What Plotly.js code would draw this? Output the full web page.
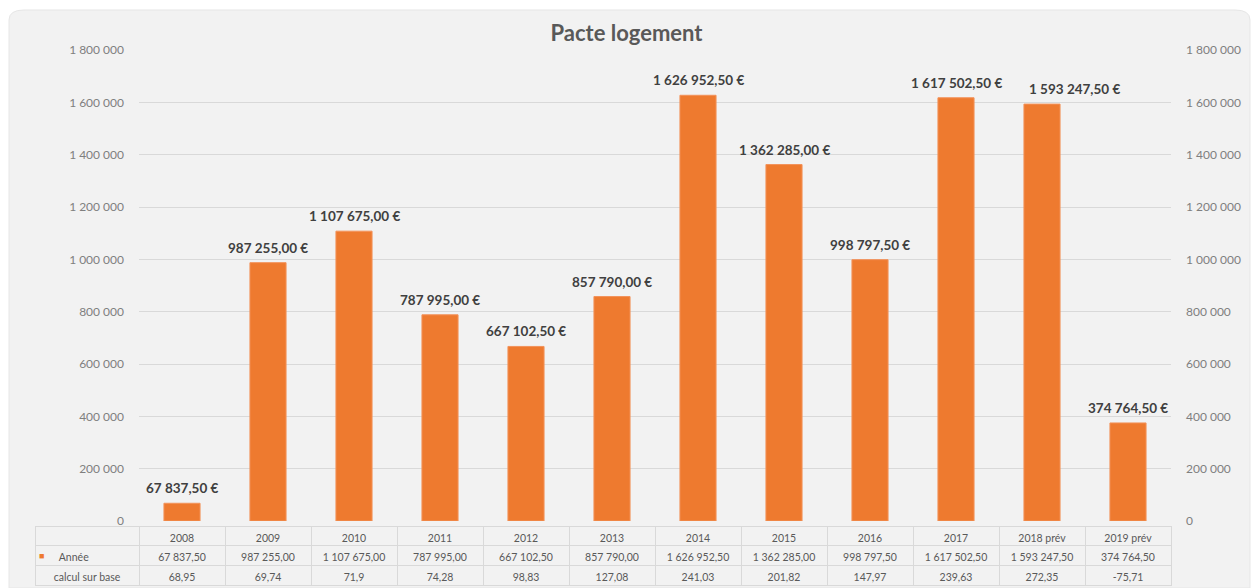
<!DOCTYPE html>
<html><head><meta charset="utf-8">
<script src="https://cdn.plot.ly/plotly-3.0.1.min.js"></script>
<style>html,body{margin:0;padding:0;background:#fff;}#chart{width:1253px;height:588px;}</style>
</head><body><div id="chart"></div>
<script>
const categories = ['2008','2009','2010','2011','2012','2013','2014','2015','2016','2017','2018 prév','2019 prév'];
const anneeValues = [67837.5, 987255, 1107675, 787995, 667102.5, 857790, 1626952.5, 1362285, 998797.5, 1617502.5, 1593247.5, 374764.5];
const calculValues = [68.95, 69.74, 71.9, 74.28, 98.83, 127.08, 241.03, 201.82, 147.97, 239.63, 272.35, -75.71];
const rowNames = ['Année', 'calcul sur base'];
const chartTitle = 'Pacte logement';

function frNum(v){
  const s = v.toFixed(2).split('.');
  return s[0].replace(/\B(?=(\d{3})+(?!\d))/g, ' ') + ',' + s[1];
}
function frShort(v){ return String(v).replace('.', ','); }

const W = 1253, H = 588;
const FONT = 'Lato, "Liberation Sans", sans-serif';
const orange = '#ee7a2f';
const PL = 139, PR = 1171;

const bar = {
  type: 'bar', x: categories, y: anneeValues, name: rowNames[0],
  marker: {color: orange, line: {color: '#f3925a', width: 1}},
  hoverinfo: 'none', showlegend: false
};

const headerVals = [''].concat(categories).map(v => [v]);
const cellCols = [['      ' + rowNames[0], '    ' + rowNames[1]]];
for (let i = 0; i < categories.length; i++) {
  cellCols.push([frNum(anneeValues[i]), frShort(calculValues[i])]);
}
const catW = (PR - PL) / categories.length;
const colW = [PL - 35].concat(categories.map(() => catW));

const table = {
  type: 'table',
  domain: {x: [35/W, PR/W], y: [0, (H-526)/H]},
  columnwidth: colW,
  header: {
    values: headerVals, height: 19,
    align: 'center', line: {color: '#d9d9d9', width: 1},
    fill: {color: 'rgba(0,0,0,0)'},
    font: {family: FONT, size: 10.5, color: '#595959'}
  },
  cells: {
    values: cellCols, height: 20,
    align: ['left'].concat(categories.map(() => 'center')),
    line: {color: '#d9d9d9', width: 1},
    fill: {color: 'rgba(0,0,0,0)'},
    font: {family: FONT, size: 10.5, color: '#595959'}
  }
};

// the 2018 label is nudged to the right in the original chart
const labelXShift = categories.map((c, i) => (i === 10 ? 32 : 0));
const annotations = categories.map((c, i) => ({
  x: i, y: anneeValues[i], xref: 'x', yref: 'y',
  text: frNum(anneeValues[i]) + ' €', showarrow: false,
  yanchor: 'bottom', yshift: 5, xshift: labelXShift[i],
  font: {family: FONT, size: 13.5, color: '#404040', weight: 'bold'}
}));
annotations.push({
  xref: 'paper', yref: 'paper', x: 38/W, y: (H-555)/H, xanchor: 'left', yanchor: 'middle',
  text: '■', showarrow: false, borderpad: 0, font: {family: FONT, size: 9, color: orange}
});

const yCommon = {
  range: [0, 1800000], dtick: 200000, tickformat: ',d',
  tickfont: {family: FONT, size: 12, color: '#7f7f7f'},
  domain: [67/H, 538/H], zeroline: false, showline: false, ticks: ''
};

const layout = {
  width: W, height: H,
  margin: {l: 0, r: 0, t: 0, b: 0},
  paper_bgcolor: '#ffffff', plot_bgcolor: 'rgba(0,0,0,0)',
  separators: ', ',
  font: {family: FONT, color: '#595959'},
  title: {text: chartTitle, x: 0.5, xanchor: 'center', y: 1 - 33/H, yanchor: 'middle',
          xref: 'paper', yref: 'container',
          font: {family: FONT, size: 22, color: '#595959', weight: 'bold'}},
  xaxis: {type: 'category', domain: [PL/W, PR/W], range: [-0.5, categories.length - 0.5],
          autorange: false, showticklabels: false,
          showgrid: false, zeroline: false, showline: false, fixedrange: true},
  yaxis: Object.assign({}, yCommon, {showgrid: true, gridcolor: '#d9d9d9', gridwidth: 1,
          ticklabelstandoff: 14}),
  yaxis2: Object.assign({}, yCommon, {overlaying: 'y', side: 'right', showgrid: false,
          ticklabelstandoff: 14, anchor: 'x'}),
  bargap: 0.58,
  annotations: annotations,
  shapes: [{
    type: 'path', xref: 'paper', yref: 'paper', layer: 'below',
    path: 'M 0.0072 0 L 0.0072 0.966 Q 0.0072 0.983 0.0192 0.983 L 0.9856 0.983 Q 0.9976 0.983 0.9976 0.966 L 0.9976 0 Z',
    fillcolor: '#f2f2f2', line: {color: '#e6e6e6', width: 1}
  }]
};

const ghost = {type: 'scatter', x: [categories[0]], y: [0], yaxis: 'y2', mode: 'markers',
  marker: {opacity: 0}, hoverinfo: 'none', showlegend: false};

Plotly.newPlot('chart', [bar, ghost, table], layout, {staticPlot: true, displayModeBar: false});
</script></body></html>
